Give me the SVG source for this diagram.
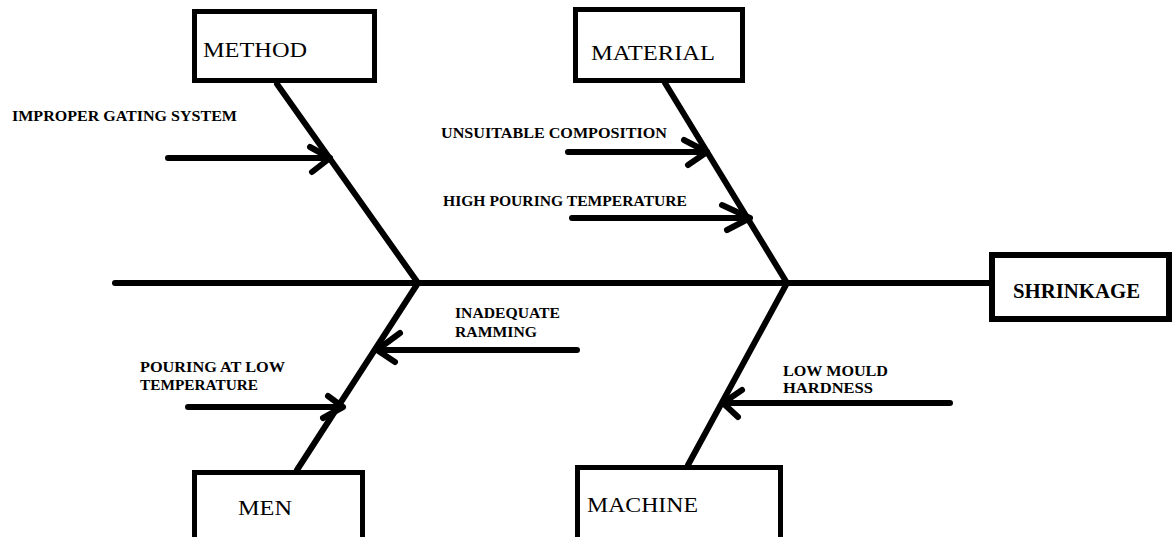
<svg xmlns="http://www.w3.org/2000/svg" width="1174" height="537" viewBox="0 0 1174 537">
<style>
.box{fill:#fff;stroke:#000;stroke-width:5}
.t{font-family:"Liberation Serif","Times New Roman",serif;font-size:22px;fill:#000}
.c{font-family:"Liberation Serif","Times New Roman",serif;font-size:15.5px;font-weight:bold;fill:#000}
.ln{stroke:#000;stroke-width:6;stroke-linecap:round;fill:none;stroke-linejoin:round}
</style>
<rect width="1174" height="537" fill="#fff"/>
<g id="connectors">
<path class="ln" d="M115 283H990"/>
<path class="ln" d="M277 84L418 283"/>
<path class="ln" d="M665 83L787 283"/>
<path class="ln" d="M418 283L297 470"/>
<path class="ln" d="M787 283L688 465"/>
<path class="ln" d="M168 158H330M310 147L330 158L312 172"/>
<path class="ln" d="M568 152H707M684 140L707 152L688 165"/>
<path class="ln" d="M572 218H750M722 205L750 218L727 230"/>
<path class="ln" d="M577 350H377M400 333L377 350L395 362"/>
<path class="ln" d="M188 407H343M328 396L343 407L323 418"/>
<path class="ln" d="M950 403H723M742 390L723 403L738 417"/>
</g>
<g id="method"><rect class="box" x="194.5" y="11.5" width="180" height="69"/><text class="t" x="203" y="57" textLength="104" lengthAdjust="spacingAndGlyphs">METHOD</text></g>
<g id="material"><rect class="box" x="575.5" y="9.5" width="167" height="71"/><text class="t" x="591" y="60" textLength="124" lengthAdjust="spacingAndGlyphs">MATERIAL</text></g>
<g id="shrinkage"><rect class="box" style="stroke-width:6" x="992" y="255" width="177" height="64"/><text class="c" style="font-size:20.5px" x="1013" y="298" textLength="127" lengthAdjust="spacingAndGlyphs">SHRINKAGE</text></g>
<g id="men"><rect class="box" x="194.5" y="472.5" width="168" height="75"/><text class="t" x="238" y="515" textLength="54" lengthAdjust="spacingAndGlyphs">MEN</text></g>
<g id="machine"><rect class="box" x="577.5" y="467.5" width="203" height="80"/><text class="t" x="587" y="512" textLength="111" lengthAdjust="spacingAndGlyphs">MACHINE</text></g>
<g id="cause-improper-gating"><text class="c" x="12" y="121" textLength="225" lengthAdjust="spacingAndGlyphs">IMPROPER GATING SYSTEM</text></g>
<g id="cause-unsuitable-composition"><text class="c" x="441" y="138" textLength="226" lengthAdjust="spacingAndGlyphs">UNSUITABLE COMPOSITION</text></g>
<g id="cause-high-pouring"><text class="c" x="443" y="206" textLength="244" lengthAdjust="spacingAndGlyphs">HIGH POURING TEMPERATURE</text></g>
<g id="cause-inadequate-ramming"><text class="c" x="455" y="318" textLength="105" lengthAdjust="spacingAndGlyphs">INADEQUATE</text><text class="c" x="455" y="337" textLength="82" lengthAdjust="spacingAndGlyphs">RAMMING</text></g>
<g id="cause-pouring-low"><text class="c" x="140" y="372" textLength="145" lengthAdjust="spacingAndGlyphs">POURING AT LOW</text><text class="c" x="140" y="390" textLength="118" lengthAdjust="spacingAndGlyphs">TEMPERATURE</text></g>
<g id="cause-low-mould"><text class="c" x="783" y="376" textLength="105" lengthAdjust="spacingAndGlyphs">LOW MOULD</text><text class="c" x="783" y="393" textLength="90" lengthAdjust="spacingAndGlyphs">HARDNESS</text></g>
</svg>
